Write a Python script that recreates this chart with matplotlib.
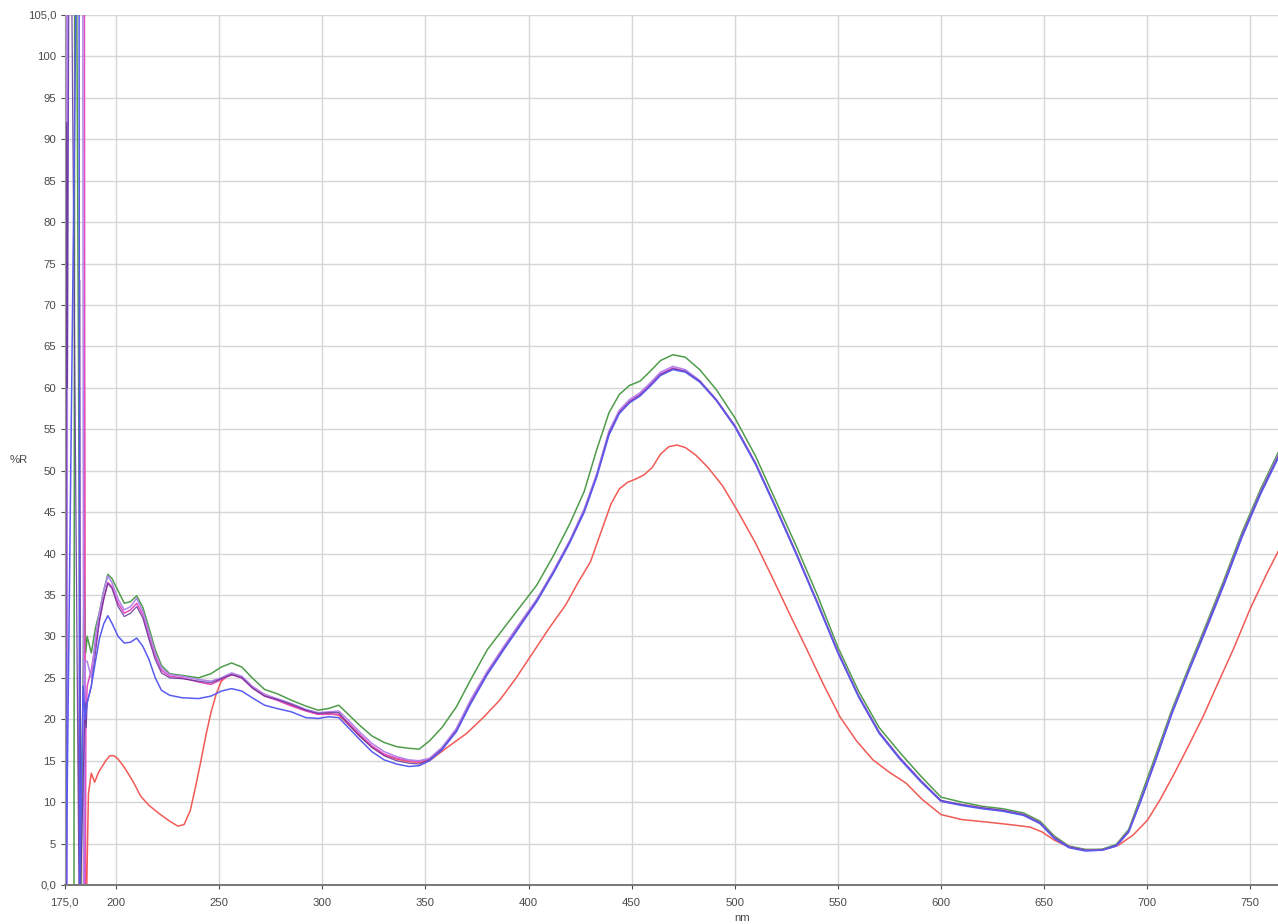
import matplotlib
matplotlib.use("Agg")
import matplotlib.pyplot as plt

# shared wavelength grid (nm) for the five close spectra
wl = [186, 188, 190, 192, 194, 196, 198, 201, 204, 207,
      210, 213, 216, 219, 222, 226, 232, 240, 246, 251,
      256, 261, 266, 272, 278, 285, 292, 298, 303, 308,
      313, 318, 324, 330, 336, 342, 347, 352, 358, 365,
      372, 380, 388, 396, 404, 412, 420, 427, 433, 439,
      444, 449, 454, 459, 464, 470, 476, 483, 491, 500,
      510, 520, 530, 540, 550, 560, 570, 580, 590, 600,
      610, 620, 630, 640, 648, 655, 662, 670, 678, 685,
      691, 697, 704, 712, 720, 728, 737, 746, 755, 765]

r_green = [30.0, 28.0, 31.0, 33.0, 35.5, 37.5, 37.0, 35.5, 34.0, 34.2,
           34.9, 33.5, 31.0, 28.4, 26.5, 25.5, 25.3, 25.0, 25.5, 26.3,
           26.8, 26.3, 25.0, 23.6, 23.1, 22.3, 21.6, 21.1, 21.3, 21.7,
           20.5, 19.3, 18.0, 17.2, 16.7, 16.5, 16.4, 17.4, 19.0, 21.5,
           24.8, 28.4, 31.0, 33.6, 36.2, 39.7, 43.6, 47.5, 52.5, 57.0,
           59.2, 60.3, 60.8, 62.0, 63.3, 64.0, 63.7, 62.2, 59.8, 56.4,
           51.8, 46.3, 40.8, 35.0, 28.7, 23.4, 19.0, 16.0, 13.2, 10.6,
           10.0, 9.5, 9.2, 8.7, 7.7, 5.9, 4.7, 4.3, 4.3, 4.9,
           6.7, 10.8, 15.6, 21.2, 26.2, 31.1, 36.7, 42.6, 47.8, 53.0]

r_violet = [27.0, 25.0, 30.0, 33.0, 35.5, 37.3, 36.5, 34.5, 33.2, 33.6,
            34.6, 33.0, 30.5, 28.0, 26.2, 25.4, 25.2, 24.8, 24.6, 25.0,
            25.6, 25.2, 24.0, 23.0, 22.5, 21.9, 21.2, 20.8, 20.9, 21.0,
            19.8, 18.5, 17.1, 16.1, 15.5, 15.1, 15.0, 15.3, 16.6, 18.9,
            22.4, 25.8, 28.8, 31.7, 34.5, 37.9, 41.6, 45.4, 49.6, 54.8,
            57.3, 58.6, 59.4, 60.6, 61.9, 62.6, 62.2, 60.9, 58.6, 55.5,
            51.0, 45.6, 40.0, 34.2, 28.2, 22.9, 18.5, 15.4, 12.7, 10.2,
            9.7, 9.3, 9.0, 8.5, 7.5, 5.7, 4.6, 4.2, 4.2, 4.8,
            6.5, 10.4, 15.2, 20.9, 25.9, 30.8, 36.4, 42.3, 47.5, 52.7]

r_blue = [22.0, 24.0, 27.0, 29.8, 31.5, 32.5, 31.6, 30.0, 29.2, 29.3,
          29.8, 28.8, 27.2, 25.0, 23.5, 22.9, 22.6, 22.5, 22.8, 23.4,
          23.7, 23.4, 22.6, 21.7, 21.3, 20.9, 20.2, 20.1, 20.3, 20.2,
          18.9, 17.6, 16.1, 15.1, 14.6, 14.3, 14.4, 15.0, 16.3, 18.5,
          21.9, 25.4, 28.4, 31.3, 34.2, 37.6, 41.3, 45.0, 49.2, 54.3,
          56.9, 58.2, 59.0, 60.2, 61.5, 62.2, 61.9, 60.7, 58.5, 55.3,
          50.8, 45.4, 39.8, 34.0, 28.0, 22.7, 18.3, 15.2, 12.5, 10.1,
          9.6, 9.2, 8.9, 8.4, 7.4, 5.6, 4.5, 4.1, 4.2, 4.7,
          6.4, 10.2, 15.0, 20.7, 25.7, 30.5, 36.1, 42.0, 47.2, 52.3]

r_magenta = [24.0, 26.0, 29.0, 32.0, 34.5, 36.5, 36.0, 34.0, 32.8, 33.2,
             34.0, 32.6, 30.0, 27.6, 25.9, 25.2, 25.0, 24.5, 24.2, 24.8,
             25.4, 25.0, 23.8, 22.8, 22.3, 21.6, 21.0, 20.6, 20.6, 20.6,
             19.5, 18.2, 16.8, 15.8, 15.3, 15.0, 14.9, 15.2, 16.4, 18.7,
             22.2, 25.6, 28.6, 31.5, 34.4, 37.8, 41.5, 45.2, 49.4, 54.6,
             57.1, 58.4, 59.2, 60.4, 61.7, 62.4, 62.0, 60.8, 58.5, 55.4,
             50.9, 45.5, 39.9, 34.1, 28.1, 22.8, 18.4, 15.3, 12.6, 10.1,
             9.7, 9.3, 9.0, 8.5, 7.5, 5.7, 4.6, 4.2, 4.2, 4.7,
             6.4, 10.3, 15.1, 20.8, 25.8, 30.6, 36.2, 42.1, 47.3, 52.5]

r_dark = [22.0, 24.0, 28.0, 32.0, 34.5, 36.4, 35.8, 33.6, 32.4, 32.8,
          33.6, 32.2, 29.6, 27.2, 25.6, 25.0, 24.9, 24.6, 24.4, 24.9,
          25.4, 25.0, 23.8, 22.8, 22.4, 21.8, 21.1, 20.7, 20.8, 20.8,
          19.3, 18.0, 16.6, 15.6, 15.0, 14.7, 14.6, 15.1, 16.4, 18.6,
          22.0, 25.5, 28.5, 31.4, 34.3, 37.7, 41.4, 45.1, 49.3, 54.5,
          57.0, 58.3, 59.1, 60.3, 61.6, 62.3, 62.0, 60.8, 58.6, 55.4,
          50.9, 45.5, 39.9, 34.1, 28.1, 22.8, 18.4, 15.3, 12.6, 10.2,
          9.7, 9.3, 9.0, 8.5, 7.5, 5.7, 4.6, 4.2, 4.2, 4.8,
          6.5, 10.3, 15.1, 20.8, 25.8, 30.7, 36.3, 42.2, 47.4, 52.5]

# noisy start of each scan (detector saturates below ~186 nm)
green_pre_wl = [179.6, 180.0, 180.5, 183.0, 184.5, 185.3]
green_pre = [0, 130, 130, 0, 37, 28]
violet_pre_wl = [175.0, 175.4, 175.8, 176.2, 176.6, 183.8, 184.3, 185.0]
violet_pre = [130, 0, 130, 0, 130, 130, 0, 27]
blue_pre_wl = [175.2, 175.5, 175.8, 181.6, 182.0, 182.4, 184.0, 185.0]
blue_pre = [0, 28, 0, 130, 130, 0, 24, 20]
magenta_pre_wl = [175.6, 176.0, 176.4, 184.6, 185.0, 185.4]
magenta_pre = [0, 130, 130, 130, 0, 20]
dark_pre_wl = [175.6, 176.0, 176.4, 177.4, 177.8, 182.0, 182.4, 182.8, 185.0, 185.5]
dark_pre = [0, 92, 60, 130, 130, 0, 73, 0, 22, 19]

# red sample has its own grid
red_wl = [184.2, 184.6, 185.2, 185.8, 186.6, 188.0, 189.6, 191.5, 193.0, 195.0,
          197.0, 199.0, 201.0, 204.0, 208.0, 212.0, 216.0, 221.0, 226.0, 230.0,
          233.0, 236.0, 238.5, 241.0, 243.5, 246.0, 248.5, 251.0, 254.0, 257.0,
          261, 266, 272, 278, 285, 292, 298, 303, 308, 313,
          318, 324, 330, 336, 342, 347, 352, 360, 370, 378,
          386, 394, 402, 410, 418, 424, 430, 435, 440, 444,
          448, 452, 456, 460, 464, 468, 472, 476, 481, 487,
          494, 501, 510, 519, 527, 535, 543, 551, 559, 567,
          575, 583, 591, 600, 610, 622, 633, 643, 649, 655,
          662, 670, 678, 686, 693, 700, 706, 713, 720, 727,
          734, 742, 750, 758, 765]
r_red = [0, 61, 0, 0, 11.0, 13.5, 12.4, 13.6, 14.2, 15.0,
         15.6, 15.6, 15.2, 14.2, 12.6, 10.7, 9.6, 8.6, 7.7, 7.1,
         7.3, 9.0, 11.8, 14.8, 18.0, 20.8, 23.0, 24.6, 25.2, 25.4,
         25.0, 23.9, 23.0, 22.4, 21.7, 21.1, 20.6, 20.7, 20.5, 19.3,
         18.0, 16.7, 15.7, 15.2, 14.9, 14.8, 15.0, 16.5, 18.3, 20.2,
         22.3, 25.0, 28.0, 31.0, 33.8, 36.5, 39.0, 42.5, 46.0, 47.8,
         48.6, 49.0, 49.5, 50.4, 52.0, 52.9, 53.1, 52.8, 51.9, 50.4,
         48.2, 45.3, 41.3, 36.7, 32.5, 28.4, 24.2, 20.3, 17.4, 15.1,
         13.6, 12.3, 10.3, 8.5, 7.9, 7.6, 7.3, 7.0, 6.4, 5.4,
         4.6, 4.2, 4.3, 4.8, 6.0, 7.8, 10.2, 13.4, 16.8, 20.3,
         24.2, 28.6, 33.4, 37.6, 41.0]

x_ticks = [175, 200, 250, 300, 350, 400, 450, 500, 550, 600, 650, 700, 750]
x_ticklabels = ["175,0", "200", "250", "300", "350", "400", "450", "500",
                "550", "600", "650", "700", "750"]
y_ticks = list(range(0, 106, 5))
y_ticklabels = ["0,0"] + [str(v) for v in y_ticks[1:-1]] + ["105,0"]

plt.rcParams['font.family'] = ['Liberation Sans', 'DejaVu Sans']

fig = plt.figure(figsize=(12.78, 9.24), dpi=100)
# the plot area runs past the right edge of the image
ax = fig.add_axes([64.5 / 1278, 39 / 924, 1355 / 1278, 870 / 924])

lw = 1.1
ax.plot(red_wl, r_red, color="#f25a55", lw=lw)
ax.plot(green_pre_wl + wl, green_pre + r_green, color="#4f9c4a", lw=lw)
ax.plot(magenta_pre_wl + wl, magenta_pre + r_magenta, color="#e64cc0", lw=lw)
ax.plot(violet_pre_wl + wl, violet_pre + r_violet, color="#b184ea", lw=lw)
ax.plot(dark_pre_wl + wl, dark_pre + r_dark, color="#62309a", lw=0.9, alpha=0.85)
ax.plot(blue_pre_wl + wl, blue_pre + r_blue, color="#5a5cf0", lw=lw)

ax.set_xlim(175, 832)
ax.set_ylim(0, 105)
ax.set_xticks(x_ticks)
ax.set_xticklabels(x_ticklabels)
ax.set_yticks(y_ticks)
ax.set_yticklabels(y_ticklabels)
ax.tick_params(labelsize=8.2, colors="#4a4a4a", length=3, width=0.8,
               direction="out", pad=3)
ax.tick_params(axis="x", pad=6)

ax.grid(True, color="#d6d6d6", lw=1.0)
ax.set_axisbelow(True)
for side in ("top", "right"):
    ax.spines[side].set_visible(False)
ax.spines["left"].set_color("#9a9a9a")
ax.spines["bottom"].set_color("#777777")
ax.spines["bottom"].set_linewidth(1.4)

ax.set_xlabel("nm", fontsize=8.2, color="#4a4a4a", labelpad=4)
ax.set_ylabel("%R", fontsize=8.2, color="#4a4a4a", rotation=0,
              ha="center", va="center")
ax.yaxis.set_label_coords(-46 / 1355, 0.488)

fig.savefig("out.png", dpi=100)
